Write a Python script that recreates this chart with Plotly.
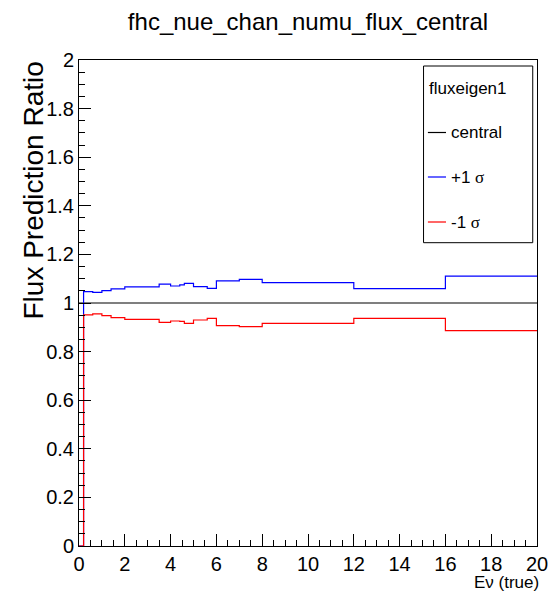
import plotly.graph_objects as go

# ---- data ----
bin_edges = [0, 0.2, 0.6, 1.0, 1.4, 2.0, 3.5, 4.0, 4.4, 4.6, 5.0, 5.6, 6.0, 7.0, 8.0, 12.0, 16.0, 20.0]
central_ratio = [1.0] * 17
plus_sigma = [0.0, 1.047, 1.044, 1.051, 1.058, 1.066, 1.078, 1.070, 1.075, 1.081, 1.067, 1.060,
              1.091, 1.097, 1.084, 1.059, 1.111]
minus_sigma = [0.0, 0.951, 0.955, 0.948, 0.940, 0.933, 0.920, 0.926, 0.924, 0.916, 0.930, 0.937,
               0.907, 0.903, 0.916, 0.937, 0.886]
x_ticks = [0, 2, 4, 6, 8, 10, 12, 14, 16, 18, 20]
y_ticks = [0, 0.2, 0.4, 0.6, 0.8, 1, 1.2, 1.4, 1.6, 1.8, 2]
legend_labels = ["central", "+1 <span style='font-family:Liberation Serif'>σ</span>",
                 "-1 <span style='font-family:Liberation Serif'>σ</span>"]
series_colors = ["#000000", "#0000ff", "#ff0000"]

W, H = 560, 592
L, R, T, B = 79, 18, 60, 46
PW, PH = W - L - R, H - T - B

def px(x):
    return (x - L) / PW

def py(y):
    return (H - B - y) / PH

FONT = "Liberation Sans, Arial, Helvetica, sans-serif"

fig = go.Figure()
for vals, col in zip([central_ratio, plus_sigma, minus_sigma], series_colors):
    fig.add_trace(go.Scatter(
        x=bin_edges, y=vals + [vals[-1]], mode="lines",
        line=dict(color=col, width=1.2, shape="hv"), showlegend=False, hoverinfo="skip"))

axis_common = dict(
    showgrid=False, zeroline=False, showline=True, linecolor="black", linewidth=1,
    mirror=True, ticks="inside", ticklen=12, tickcolor="black", tickwidth=1,
    tickfont=dict(family=FONT, size=20, color="black"),
)
fig.update_xaxes(range=[0, 20], tickvals=x_ticks, ticktext=[str(v) for v in x_ticks],
                 minor=dict(dtick=0.5, ticklen=6, ticks="inside", tickcolor="black"),
                 **axis_common)
fig.update_yaxes(range=[0, 2], tickvals=y_ticks, ticktext=[f"{v:g}" for v in y_ticks],
                 minor=dict(dtick=0.05, ticklen=6, ticks="inside", tickcolor="black"),
                 **axis_common)

annotations = [
    dict(text="Flux Prediction Ratio", textangle=-90, x=px(32), y=1.0, xref="paper", yref="paper",
         xanchor="center", yanchor="top", showarrow=False,
         font=dict(family=FONT, size=28, color="black")),
    dict(text="Eν (true)", x=px(545), y=py(582), xref="paper", yref="paper",
         xanchor="right", yanchor="middle", showarrow=False, borderpad=0,
         font=dict(family=FONT, size=17, color="black")),
    dict(text="fluxeigen1", x=px(430.5), y=py(88.5), xref="paper", yref="paper",
         xanchor="left", yanchor="middle", showarrow=False,
         font=dict(family=FONT, size=17, color="black")),
]
shapes = [
    dict(type="rect", xref="paper", yref="paper", x0=px(427.3), x1=px(537.7), y0=py(242.7), y1=py(66),
         line=dict(color="black", width=1), fillcolor="white", layer="above"),
]
for lab, col, yy in zip(legend_labels, series_colors, [132.5, 177, 222]):
    shapes.append(dict(type="line", xref="paper", yref="paper", x0=px(431.7), x1=px(450),
                       y0=py(yy), y1=py(yy), line=dict(color=col, width=1.2), layer="above"))
    annotations.append(dict(text=lab, x=px(453.5), y=py(yy), xref="paper", yref="paper",
                            xanchor="left", yanchor="middle", showarrow=False,
                            font=dict(family=FONT, size=17, color="black")))

fig.update_layout(
    width=W, height=H, margin=dict(l=L, r=R, t=T, b=B, pad=0),
    paper_bgcolor="white", plot_bgcolor="white",
    title=dict(text="fhc_nue_chan_numu_flux_central", x=0.5, xref="paper", xanchor="center",
               y=1 - 22 / H, yref="container", yanchor="middle",
               font=dict(family=FONT, size=24, color="black")),
    annotations=annotations, shapes=shapes, showlegend=False,
)
fig.write_html("out.html")
